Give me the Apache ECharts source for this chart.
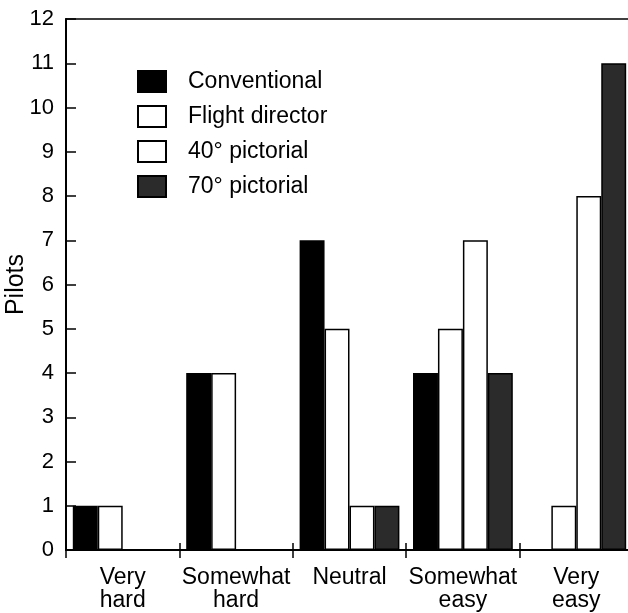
<!DOCTYPE html>
<html>
<head>
<meta charset="utf-8">
<script src="https://cdn.jsdelivr.net/npm/echarts@6/dist/echarts.min.js"></script>
<style>html,body{margin:0;padding:0;background:#fff}#c{width:628px;height:613px}</style>
</head>
<body>
<div id="c"></div>
<script>
const categories = ['Very\nhard', 'Somewhat\nhard', 'Neutral', 'Somewhat\neasy', 'Very\neasy'];
const conventional = [1, 4, 7, 4, 0];
const flightDirector = [1, 4, 5, 5, 1];
const pictorial40 = [0, 0, 1, 7, 8];
const pictorial70 = [0, 0, 1, 4, 11];
const yTicks = [0,1,2,3,4,5,6,7,8,9,10,11,12];

const font = 'Liberation Sans, Arial, Helvetica, sans-serif';
const chart = echarts.init(document.getElementById('c'), null, {renderer: 'canvas'});
function bar(name, data, color) {
  return {
    name, type: 'bar', data, barGap: '0%', barCategoryGap: '12%',
    itemStyle: {color: color, borderColor: '#000', borderWidth: 1.5},
    emphasis: {disabled: true}
  };
}
chart.setOption({
  animation: false,
  backgroundColor: '#fff',
  grid: {left: 66, top: 19, width: 567, height: 531, outerBoundsMode: 'none', containLabel: false,
    show: true, borderColor: '#000', borderWidth: 1.5, backgroundColor: 'transparent'},
  legend: {
    orient: 'vertical', left: 132, top: 65, itemWidth: 28, itemHeight: 21, itemGap: 12,
    icon: 'rect',
    textStyle: {fontFamily: font, fontSize: 23, color: '#000', padding: [0, 0, 0, 17]},
    data: ['Conventional', 'Flight director', '40° pictorial', '70° pictorial']
  },
  xAxis: [{
    type: 'category', data: categories, position: 'bottom',
    axisLine: {show: true, lineStyle: {color: '#000', width: 2}},
    axisTick: {show: true, length: 8, lineStyle: {color: '#000', width: 1.5}},
    axisLabel: {interval: 0, hideOverlap: false, fontFamily: font, fontSize: 23, color: '#000', margin: 16, lineHeight: 23}
  }, {
    type: 'category', data: categories, position: 'bottom', gridIndex: 0,
    axisLine: {show: false},
    axisTick: {show: true, inside: true, length: 7, lineStyle: {color: '#000', width: 1.5}},
    axisLabel: {show: false}
  }],
  yAxis: {
    type: 'value', min: yTicks[0], max: yTicks[yTicks.length - 1], interval: 1,
    name: 'Pilots', nameLocation: 'middle', nameGap: 37, nameMoveOverlap: false,
    nameTextStyle: {fontFamily: font, fontSize: 25, color: '#000'},
    axisLine: {show: true, lineStyle: {color: '#000', width: 2}},
    axisTick: {show: true, inside: true, length: 10, lineStyle: {color: '#000', width: 1.5}},
    axisLabel: {fontFamily: font, fontSize: 22, color: '#000', margin: 12},
    splitLine: {show: false}
  },
  series: [
    bar('Conventional', conventional, '#000'),
    bar('Flight director', flightDirector, '#fff'),
    bar('40° pictorial', pictorial40, '#fff'),
    bar('70° pictorial', pictorial70, '#2b2b2b')
  ]
});
</script>
</body>
</html>
